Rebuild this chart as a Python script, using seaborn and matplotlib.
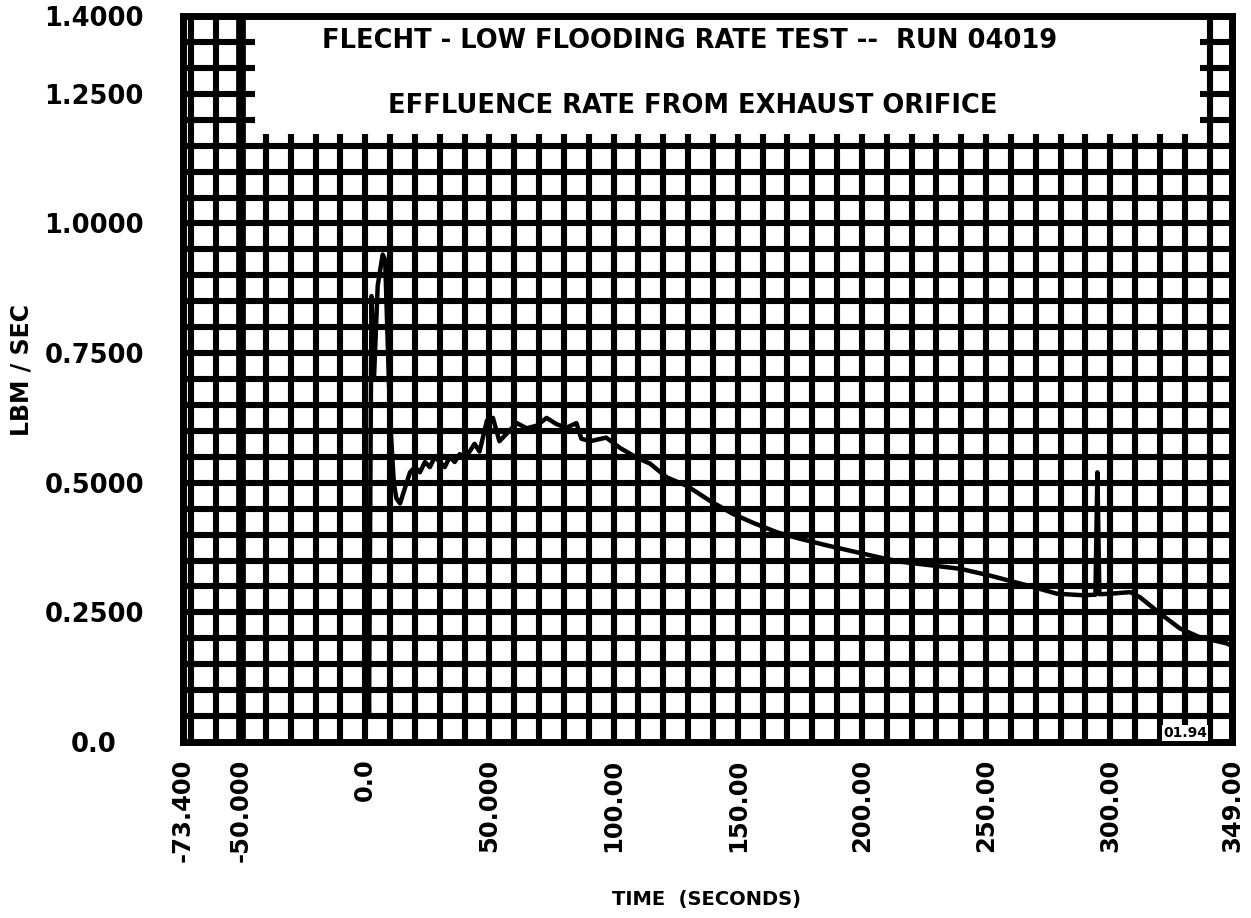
import numpy as np
import pandas as pd
import matplotlib
matplotlib.use("Agg")
import matplotlib.pyplot as plt
import seaborn as sns
from matplotlib.patches import Rectangle

# ---- data ----
time_s = [0.0, 0.8, 1.5, 2.5, 3.5, 5.0, 7.0, 8.0, 10.0, 11.5, 12.5, 14.0, 16.0, 18.0,
          20.0, 22.0, 24.0, 26.0, 28.0, 30.0, 32.0, 34.0, 36.0, 38.0, 40.0, 42.0, 44.0,
          46.0, 48.0, 49.0, 51.4, 54.0, 57.0, 61.0, 65.0, 69.0, 73.0, 77.0, 81.0, 85.0,
          87.0, 90.5, 97.0, 102.6, 109.4, 114.6, 121.5, 129.5, 138.8, 148.0, 156.0,
          166.0, 175.0, 186.0, 196.0, 207.0, 215.0, 229.0, 239.5, 251.5, 266.5, 278.5,
          289.0, 294.0, 294.8, 295.6, 300.0, 308.0, 312.0, 320.0, 328.0, 336.0, 347.0, 349.0]
rate_lbm_s = [0.0, 0.42, 0.05, 0.86, 0.70, 0.88, 0.94, 0.93, 0.62, 0.50, 0.47, 0.46, 0.49,
              0.52, 0.53, 0.52, 0.54, 0.53, 0.55, 0.54, 0.53, 0.55, 0.54, 0.555, 0.55, 0.56,
              0.575, 0.56, 0.60, 0.62, 0.625, 0.58, 0.595, 0.615, 0.605, 0.61, 0.625, 0.613,
              0.606, 0.615, 0.585, 0.58, 0.587, 0.567, 0.548, 0.537, 0.51, 0.494, 0.465,
              0.44, 0.423, 0.404, 0.392, 0.379, 0.368, 0.356, 0.348, 0.34, 0.334, 0.321,
              0.302, 0.286, 0.283, 0.284, 0.52, 0.285, 0.286, 0.289, 0.279, 0.248, 0.219,
              0.202, 0.19, 0.185]

x_tick_values = [-73.4, -50.0, 0.0, 50.0, 100.0, 150.0, 200.0, 250.0, 300.0, 349.0]
x_tick_labels = ["-73.400", "-50.000", "0.0", "50.000", "100.00", "150.00",
                 "200.00", "250.00", "300.00", "349.00"]
y_tick_values = [0.0, 0.25, 0.5, 0.75, 1.0, 1.25, 1.4]
y_tick_labels = ["0.0", "0.2500", "0.5000", "0.7500", "1.0000", "1.2500", "1.4000"]

title_line1 = "FLECHT - LOW FLOODING RATE TEST --  RUN 04019"
title_line2 = "EFFLUENCE RATE FROM EXHAUST ORIFICE"
x_label = "TIME  (SECONDS)"
y_label = "LBM / SEC"
corner_note = "01.94"

# ---- figure ----
sns.set_style("white")
plt.rcParams["font.family"] = ["DejaVu Sans"]
plt.rcParams["font.weight"] = "bold"
plt.rcParams["text.color"] = "black"
plt.rcParams["xtick.color"] = "black"
plt.rcParams["ytick.color"] = "black"

fig = plt.figure(figsize=(12.51, 9.18), dpi=100)
ax = fig.add_axes([183 / 1251, 1 - 742 / 918, (1232 - 183) / 1251, (742 - 16) / 918])

df = pd.DataFrame({"t": time_s, "v": rate_lbm_s})
sns.lineplot(data=df, x="t", y="v", ax=ax, color="black", linewidth=3.2,
             estimator=None, sort=False, zorder=3)

ax.set_xlim(-73.4, 349.0)
ax.set_ylim(0.0, 1.4)

# dense plotter grid
grid_x = np.arange(-70, 341, 10)
grid_y = np.arange(0.05, 1.39, 0.05)
ax.vlines(grid_x, 0.0, 1.4, colors="black", linewidth=4.4, zorder=1)
ax.hlines(grid_y, -73.4, 349.0, colors="black", linewidth=4.4, zorder=1)
ax.axvline(-50, color="black", linewidth=7, zorder=1)

ax.set_xticks(x_tick_values)
ax.set_xticklabels(x_tick_labels, rotation=90, fontsize=17.5, fontweight="bold", va="top")
ax.set_yticks(y_tick_values)
ax.set_yticklabels(y_tick_labels, fontsize=18.5, fontweight="bold")
for lab in ax.get_yticklabels():
    lab.set_ha("center")
ax.tick_params(axis="y", which="both", length=0, pad=64)
ax.tick_params(axis="x", which="both", length=0, pad=12)
ax.set_xlabel("")
ax.set_ylabel("")
ax.grid(False)

for s in ax.spines.values():
    s.set_visible(True)
    s.set_color("black")
    s.set_linewidth(5)
    s.set_zorder(4)

# white title block inside the plot area
ax.add_patch(Rectangle((-44.4, 1.172), 336.1 + 44.4, 1.4 - 1.172, facecolor="white",
                       edgecolor="none", zorder=2))

fig.text(690 / 1251, 1 - 41 / 918, title_line1, ha="center", va="center",
         fontsize=18.5, fontweight="bold", zorder=5)
fig.text(693 / 1251, 1 - 106 / 918, title_line2, ha="center", va="center",
         fontsize=18.5, fontweight="bold", zorder=5)
fig.text(22 / 1251, 1 - 370 / 918, y_label, rotation=90, ha="center", va="center",
         fontsize=17, fontweight="bold")
fig.text(706 / 1251, 1 - 900 / 918, x_label, ha="center", va="center",
         fontsize=14, fontweight="bold")
fig.text(1185 / 1251, 1 - 733 / 918, corner_note, ha="center", va="center",
         fontsize=10, fontweight="bold", color="black",
         bbox=dict(facecolor="white", edgecolor="none", pad=0.5))

fig.savefig("out.png", dpi=100, facecolor="white")
